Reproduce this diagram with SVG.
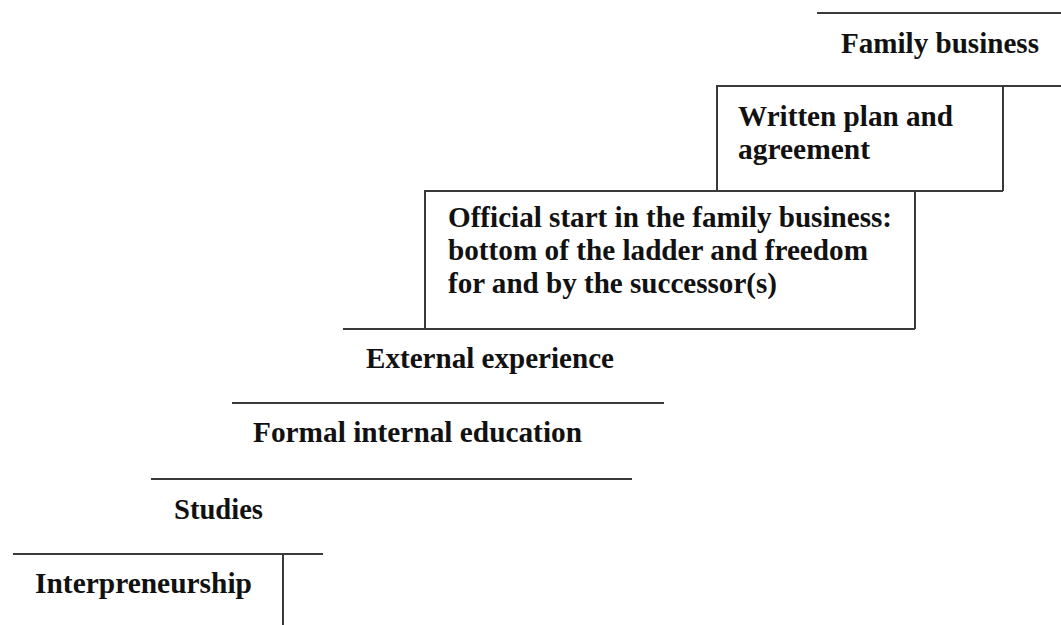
<svg xmlns="http://www.w3.org/2000/svg" width="1061" height="625" viewBox="0 0 1061 625">
<style>
.t{font-family:"Liberation Serif","Times New Roman",serif;font-weight:bold;font-size:29px;fill:#111}
.ln{stroke:#3a3a3a;stroke-width:2;fill:none}
</style>
<rect width="1061" height="625" fill="#fff"/>
<g id="connectors">
<path class="ln" d="M817,13 H1061"/>
<path class="ln" d="M717,191 V86 H1061 M1003,86 V191"/>
<path class="ln" d="M425,329 V191 H1003 M915,191 V329"/>
<path class="ln" d="M343,329 H915"/>
<path class="ln" d="M232,403 H664"/>
<path class="ln" d="M151,479 H632"/>
<path class="ln" d="M13,554 H323 M283,554 V625"/>
</g>
<g id="family-business"><text class="t" x="841" y="53" textLength="198" lengthAdjust="spacingAndGlyphs">Family business</text></g>
<g id="written-plan">
<text class="t" x="738" y="126" textLength="215" lengthAdjust="spacingAndGlyphs">Written plan and</text>
<text class="t" x="738" y="159" textLength="132" lengthAdjust="spacingAndGlyphs">agreement</text>
</g>
<g id="official-start">
<text class="t" x="448" y="227" textLength="444" lengthAdjust="spacingAndGlyphs">Official start in the family business:</text>
<text class="t" x="448" y="260" textLength="420" lengthAdjust="spacingAndGlyphs">bottom of the ladder and freedom</text>
<text class="t" x="448" y="293" textLength="329" lengthAdjust="spacingAndGlyphs">for and by the successor(s)</text>
</g>
<g id="external-experience"><text class="t" x="366" y="368" textLength="248" lengthAdjust="spacingAndGlyphs">External experience</text></g>
<g id="formal-education"><text class="t" x="253" y="442" textLength="329" lengthAdjust="spacingAndGlyphs">Formal internal education</text></g>
<g id="studies"><text class="t" x="174" y="519" textLength="89" lengthAdjust="spacingAndGlyphs">Studies</text></g>
<g id="interpreneurship"><text class="t" x="35" y="593" textLength="217" lengthAdjust="spacingAndGlyphs">Interpreneurship</text></g>
</svg>
